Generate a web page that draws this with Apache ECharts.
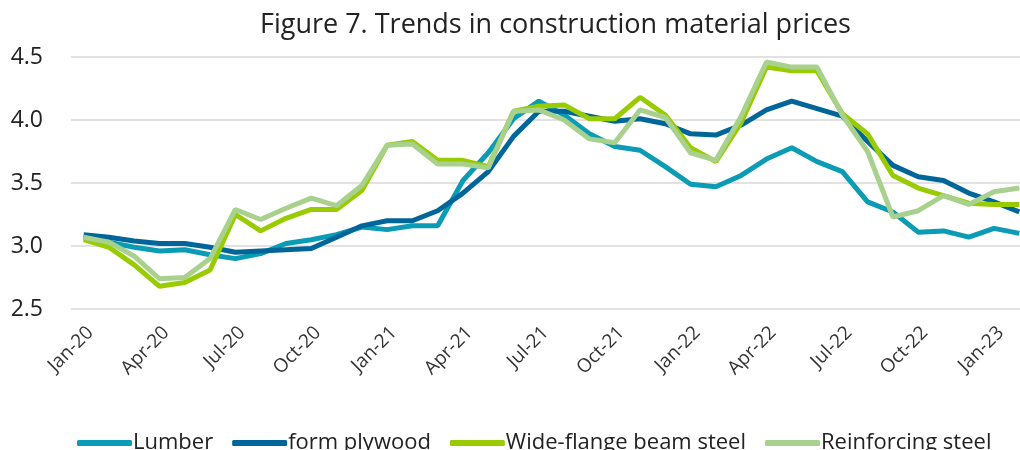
<!DOCTYPE html>
<html>
<head>
<meta charset="utf-8">
<script src="https://cdn.jsdelivr.net/npm/echarts@6/dist/echarts.min.js"></script>
<style>
  html, body { margin: 0; padding: 0; background: #fff; }
  #chart { width: 1020px; height: 450px; }
</style>
</head>
<body>
<div id="chart"></div>
<script>
var months = ['Jan-20', 'Feb-20', 'Mar-20', 'Apr-20', 'May-20', 'Jun-20', 'Jul-20', 'Aug-20', 'Sep-20', 'Oct-20', 'Nov-20', 'Dec-20',
    'Jan-21', 'Feb-21', 'Mar-21', 'Apr-21', 'May-21', 'Jun-21', 'Jul-21', 'Aug-21', 'Sep-21', 'Oct-21', 'Nov-21', 'Dec-21',
    'Jan-22', 'Feb-22', 'Mar-22', 'Apr-22', 'May-22', 'Jun-22', 'Jul-22', 'Aug-22', 'Sep-22', 'Oct-22', 'Nov-22', 'Dec-22',
    'Jan-23', 'Feb-23'];

var lumber = [3.07, 3.03, 2.99, 2.96, 2.97, 2.93, 2.90, 2.94, 3.02, 3.05, 3.09, 3.15,
    3.13, 3.16, 3.16, 3.52, 3.74, 4.01, 4.15, 4.04, 3.89, 3.79, 3.76, 3.63,
    3.49, 3.47, 3.56, 3.69, 3.78, 3.67, 3.59, 3.35, 3.27, 3.11, 3.12, 3.07,
    3.14, 3.10];
var plywood = [3.09, 3.07, 3.04, 3.02, 3.02, 2.99, 2.95, 2.96, 2.97, 2.98, 3.07, 3.16,
    3.20, 3.20, 3.28, 3.42, 3.59, 3.87, 4.07, 4.07, 4.03, 3.99, 4.01, 3.97,
    3.89, 3.88, 3.96, 4.08, 4.15, 4.09, 4.03, 3.83, 3.64, 3.55, 3.52, 3.42,
    3.35, 3.27];
var wideFlange = [3.05, 2.99, 2.85, 2.68, 2.71, 2.81, 3.25, 3.12, 3.22, 3.29, 3.29, 3.44,
    3.80, 3.83, 3.68, 3.68, 3.63, 4.07, 4.11, 4.12, 4.01, 4.01, 4.18, 4.04,
    3.78, 3.67, 3.98, 4.42, 4.39, 4.39, 4.05, 3.89, 3.56, 3.46, 3.40, 3.34,
    3.33, 3.33];
var reinforcing = [3.07, 3.03, 2.92, 2.74, 2.75, 2.90, 3.29, 3.21, 3.30, 3.38, 3.32, 3.48,
    3.80, 3.81, 3.65, 3.65, 3.62, 4.07, 4.08, 4.00, 3.85, 3.82, 4.08, 4.02,
    3.74, 3.68, 4.03, 4.46, 4.42, 4.42, 4.04, 3.75, 3.23, 3.28, 3.40, 3.33,
    3.43, 3.46];

var seriesNames = ['Lumber', 'form plywood', 'Wide-flange beam steel', 'Reinforcing steel'];
var seriesColors = ['#0a9bb5', '#00669a', '#99cc00', '#a9d18e'];
var seriesData = [lumber, plywood, wideFlange, reinforcing];

var chartDom = document.getElementById('chart');
var myChart = echarts.init(chartDom);
var option;

var fontName = 'Open Sans';

option = {
    animation: false,
    title: {
        text: 'Figure 7. Trends in construction material prices',
        left: 255,
        top: 7,
        textStyle: {
            fontFamily: fontName,
            fontWeight: 'normal',
            fontSize: 27,
            color: '#222'
        }
    },
    legend: {
        data: seriesNames,
        left: 72,
        top: 427,
        itemWidth: 55,
        itemHeight: 6,
        itemGap: 19,
        icon: 'roundRect',
        textStyle: {
            fontFamily: fontName,
            fontSize: 22,
            color: '#222',
            padding: [0, 0, 0, -4]
        }
    },
    grid: {
        left: 71,
        top: 57,
        height: 252,
        width: 961,
        outerBoundsMode: 'none'
    },
    xAxis: {
        type: 'category',
        data: months,
        boundaryGap: true,
        axisLine: { show: false },
        axisTick: { show: false },
        axisLabel: {
            interval: 2,
            rotate: 45,
            margin: 14,
            verticalAlign: 'top',
            fontFamily: fontName,
            fontSize: 19,
            color: '#333'
        }
    },
    yAxis: {
        type: 'value',
        min: 2.5,
        max: 4.5,
        interval: 0.5,
        axisLine: { show: false },
        axisTick: { show: false },
        splitLine: { lineStyle: { color: '#d9d9d9', width: 1.5 } },
        axisLabel: {
            margin: 28,
            fontFamily: fontName,
            fontSize: 23,
            color: '#222',
            formatter: function (v) { return v.toFixed(1); }
        }
    },
    series: seriesNames.map(function (name, i) {
        return {
            name: name,
            type: 'line',
            data: seriesData[i],
            symbol: 'none',
            color: seriesColors[i],
            lineStyle: { width: 5, color: seriesColors[i] }
        };
    })
};

option && myChart.setOption(option);
</script>
</body>
</html>
